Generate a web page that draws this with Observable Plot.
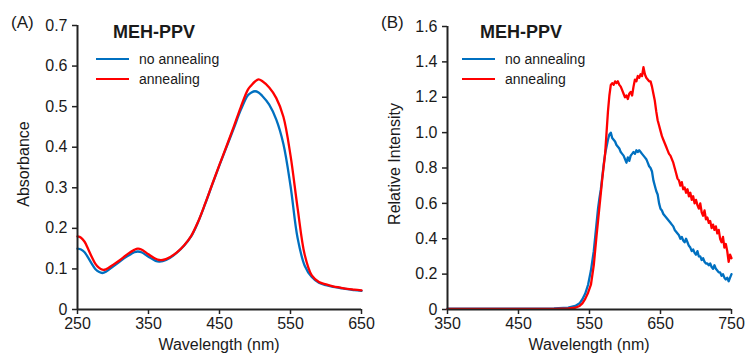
<!DOCTYPE html>
<html>
<head>
<meta charset="utf-8">
<script src="https://cdn.jsdelivr.net/npm/d3@7"></script>
<script src="https://cdn.jsdelivr.net/npm/@observablehq/plot@0.6"></script>
<style>
  html, body { margin: 0; padding: 0; background: #fff; }
  #wrap { position: relative; width: 747px; height: 356px; overflow: hidden;
          font-family: "Liberation Sans", Arial, sans-serif; color: #1a1a1a; }
  .panel { position: absolute; top: 0; }
  .abs { position: absolute; white-space: nowrap; }
  .tag { font-size: 17px; }
  .title { font-size: 18px; font-weight: bold; }
  .leg { font-size: 14px; display: flex; align-items: center; }
  .sw { display: inline-block; width: 33px; height: 2.5px; margin-right: 10px; }
  .xl { font-size: 16px; transform: translate(-50%, -50%); }
  .yl { font-size: 16px; transform: translate(-50%, -50%) rotate(-90deg); }
</style>
</head>
<body>
<div id="wrap"></div>
<script>
// ---------- Data ----------
const seriesNames = ["no annealing", "annealing"];
const seriesColors = ["#0070C0", "#FF0000"];

// Panel A: UV-vis absorbance
const absWavelength = [250, 255, 260, 265, 270, 275, 280, 285, 290, 300, 310, 320, 330, 335, 340, 350, 360, 365, 370, 380, 390, 400, 410, 420, 430, 440, 450, 460, 470, 480, 490, 495, 500, 505, 510, 520, 530, 540, 550, 560, 570, 580, 590, 600, 610, 620, 630, 640, 650];
const absNoAnnealing = [0.150, 0.148, 0.141, 0.128, 0.113, 0.100, 0.093, 0.090, 0.093, 0.106, 0.119, 0.131, 0.141, 0.143, 0.141, 0.130, 0.120, 0.118, 0.119, 0.127, 0.140, 0.157, 0.180, 0.216, 0.261, 0.309, 0.356, 0.401, 0.446, 0.492, 0.528, 0.535, 0.538, 0.535, 0.527, 0.505, 0.468, 0.408, 0.305, 0.176, 0.108, 0.080, 0.066, 0.060, 0.056, 0.053, 0.050, 0.048, 0.046];
const absAnnealing   = [0.180, 0.177, 0.167, 0.149, 0.130, 0.113, 0.103, 0.098, 0.099, 0.110, 0.122, 0.136, 0.147, 0.150, 0.148, 0.136, 0.125, 0.122, 0.122, 0.129, 0.141, 0.158, 0.181, 0.217, 0.262, 0.310, 0.357, 0.403, 0.450, 0.499, 0.542, 0.553, 0.562, 0.567, 0.563, 0.547, 0.521, 0.475, 0.380, 0.250, 0.135, 0.084, 0.068, 0.062, 0.057, 0.054, 0.051, 0.049, 0.047];

// Panel B: photoluminescence
const plWavelength = [350, 400, 450, 500, 520, 530, 536, 540, 544, 548, 552, 556, 560, 562, 564, 566, 568, 570, 572, 574, 576, 578, 580,
  582, 584, 586, 588, 590, 592, 594, 596, 598, 600, 602, 604, 606, 608, 610, 612, 614, 616, 618, 620,
  622, 624, 626, 628, 630, 632, 634, 636, 638, 640, 642, 644, 646, 648, 650, 652, 654, 656, 658, 660,
  662, 664, 666, 668, 670, 672, 674, 676, 678, 680, 682, 684, 686, 688, 690, 692, 694, 696, 698, 700,
  702, 704, 706, 708, 710, 712, 714, 716, 718, 720, 722, 724, 726, 728, 730, 732, 734, 736, 738, 740,
  742, 744, 746, 748, 750];
const plNoAnnealing = [0.005, 0.005, 0.005, 0.006, 0.010, 0.020, 0.035, 0.058, 0.090, 0.140, 0.220, 0.330, 0.490, 0.570, 0.630, 0.680, 0.750, 0.820, 0.880, 0.920, 0.960, 0.990, 1.000,
  0.970, 0.960, 0.950, 0.930, 0.920, 0.910, 0.890, 0.880, 0.870, 0.850, 0.830, 0.860, 0.840, 0.870, 0.880, 0.890, 0.880, 0.900, 0.890, 0.900,
  0.890, 0.880, 0.870, 0.860, 0.850, 0.830, 0.810, 0.800, 0.780, 0.730, 0.700, 0.670, 0.650, 0.600, 0.570, 0.560, 0.540, 0.530, 0.520, 0.510,
  0.500, 0.490, 0.480, 0.470, 0.450, 0.440, 0.430, 0.420, 0.400, 0.410, 0.390, 0.380, 0.400, 0.380, 0.360, 0.350, 0.330, 0.340, 0.320, 0.310,
  0.330, 0.300, 0.300, 0.280, 0.290, 0.270, 0.260, 0.260, 0.250, 0.260, 0.240, 0.230, 0.250, 0.230, 0.220, 0.210, 0.210, 0.190, 0.200, 0.180,
  0.170, 0.180, 0.160, 0.180, 0.200];
const plAnnealing = [0.003, 0.003, 0.003, 0.004, 0.006, 0.010, 0.020, 0.035, 0.060, 0.095, 0.140, 0.250, 0.420, 0.500, 0.580, 0.660, 0.740, 0.810, 0.880, 1.000, 1.120, 1.210, 1.270,
  1.280, 1.270, 1.290, 1.280, 1.290, 1.270, 1.260, 1.240, 1.220, 1.200, 1.210, 1.190, 1.220, 1.230, 1.210, 1.260, 1.300, 1.290, 1.320, 1.310,
  1.330, 1.320, 1.370, 1.330, 1.310, 1.300, 1.290, 1.290, 1.260, 1.220, 1.180, 1.120, 1.070, 1.040, 1.010, 0.980, 0.960, 0.940, 0.920, 0.900,
  0.880, 0.870, 0.850, 0.830, 0.800, 0.770, 0.740, 0.730, 0.700, 0.720, 0.680, 0.690, 0.660, 0.680, 0.640, 0.660, 0.620, 0.640, 0.600, 0.620,
  0.590, 0.570, 0.600, 0.550, 0.530, 0.560, 0.510, 0.520, 0.490, 0.500, 0.460, 0.480, 0.450, 0.470, 0.430, 0.450, 0.400, 0.380, 0.410, 0.350,
  0.370, 0.330, 0.270, 0.310, 0.290];

// Axes ticks
const absXTicks = [250, 350, 450, 550, 650];
const absYTicks = [0, 0.1, 0.2, 0.3, 0.4, 0.5, 0.6, 0.7];
const plXTicks = [350, 450, 550, 650, 750];
const plYTicks = [0, 0.2, 0.4, 0.6, 0.8, 1.0, 1.2, 1.4, 1.6];

// Text
const panelTags = ["(A)", "(B)"];
const panelTitle = "MEH-PPV";
const xLabel = "Wavelength (nm)";
const yLabels = ["Absorbance", "Relative Intensity"];

// ---------- Drawing ----------
const FONT = '"Liberation Sans", Arial, sans-serif';
const AXIS = "#222";
const fmtY = d => d === 0 ? "0" : d.toFixed(1);

function toRows(xs, ys) { return xs.map((x, i) => ({x, y: ys[i]})); }

function panel({width, marginLeft, marginRight, marginTop, xDomain, yDomain, xTicks, yTicks, series, curve}) {
  return Plot.plot({
    width, height: 356,
    marginLeft, marginRight, marginTop, marginBottom: 47,
    style: {fontFamily: FONT, fontSize: "16px", color: "#1a1a1a", background: "transparent", overflow: "visible"},
    x: {domain: xDomain},
    y: {domain: yDomain},
    marks: [
      Plot.axisX({ticks: xTicks, tickFormat: d => String(d), tickSize: 5, tickPadding: 3, label: null, stroke: AXIS, strokeWidth: 1.5}),
      Plot.axisY({ticks: yTicks, tickFormat: fmtY, tickSize: 5, tickPadding: 5, label: null, stroke: AXIS, strokeWidth: 1.5}),
      ...series.map((s, i) => Plot.line(s, {x: "x", y: "y", stroke: seriesColors[i], strokeWidth: 2.3, curve})),
      Plot.ruleY([yDomain[0]], {stroke: AXIS, strokeWidth: 2}),
      Plot.ruleX([xDomain[0]], {stroke: AXIS, strokeWidth: 2})
    ]
  });
}

const wrap = document.getElementById("wrap");

const panels = [
  {left: 0, width: 370, marginLeft: 77, marginRight: 9, marginTop: 25,
   xDomain: [250, 650], yDomain: [0, 0.7], xTicks: absXTicks, yTicks: absYTicks, curve: "catmull-rom",
   series: [toRows(absWavelength, absNoAnnealing), toRows(absWavelength, absAnnealing)]},
  {left: 370, width: 377, marginLeft: 77, marginRight: 16, marginTop: 26,
   xDomain: [350, 750], yDomain: [0, 1.6], xTicks: plXTicks, yTicks: plYTicks, curve: "linear",
   series: [toRows(plWavelength, plNoAnnealing), toRows(plWavelength, plAnnealing)]}
];

panels.forEach((p, k) => {
  const div = document.createElement("div");
  div.className = "panel";
  div.style.left = p.left + "px";
  div.appendChild(panel(p));
  wrap.appendChild(div);

  const L = p.left;
  const tag = document.createElement("div");
  tag.className = "abs tag";
  tag.textContent = panelTags[k];
  tag.style.left = (L + 11) + "px"; tag.style.top = "13px";
  wrap.appendChild(tag);

  const title = document.createElement("div");
  title.className = "abs title";
  title.textContent = panelTitle;
  title.style.left = (L + (k === 0 ? 113 : 110)) + "px"; title.style.top = "22px";
  wrap.appendChild(title);

  seriesNames.forEach((name, i) => {
    const row = document.createElement("div");
    row.className = "abs leg";
    row.style.left = (L + (k === 0 ? 96 : 92)) + "px";
    row.style.top = (51 + i * 20) + "px";
    const sw = document.createElement("span");
    sw.className = "sw"; sw.style.background = seriesColors[i];
    const t = document.createElement("span");
    t.textContent = name;
    row.appendChild(sw); row.appendChild(t);
    wrap.appendChild(row);
  });

  const xl = document.createElement("div");
  xl.className = "abs xl";
  xl.textContent = xLabel;
  xl.style.left = (L + p.marginLeft + (p.width - p.marginLeft - p.marginRight) / 2) + "px";
  xl.style.top = "345px";
  wrap.appendChild(xl);

  const yl = document.createElement("div");
  yl.className = "abs yl";
  yl.textContent = yLabels[k];
  yl.style.left = (L + (k === 0 ? 24 : 25)) + "px";
  yl.style.top = "164px";
  wrap.appendChild(yl);
});
</script>
</body>
</html>
